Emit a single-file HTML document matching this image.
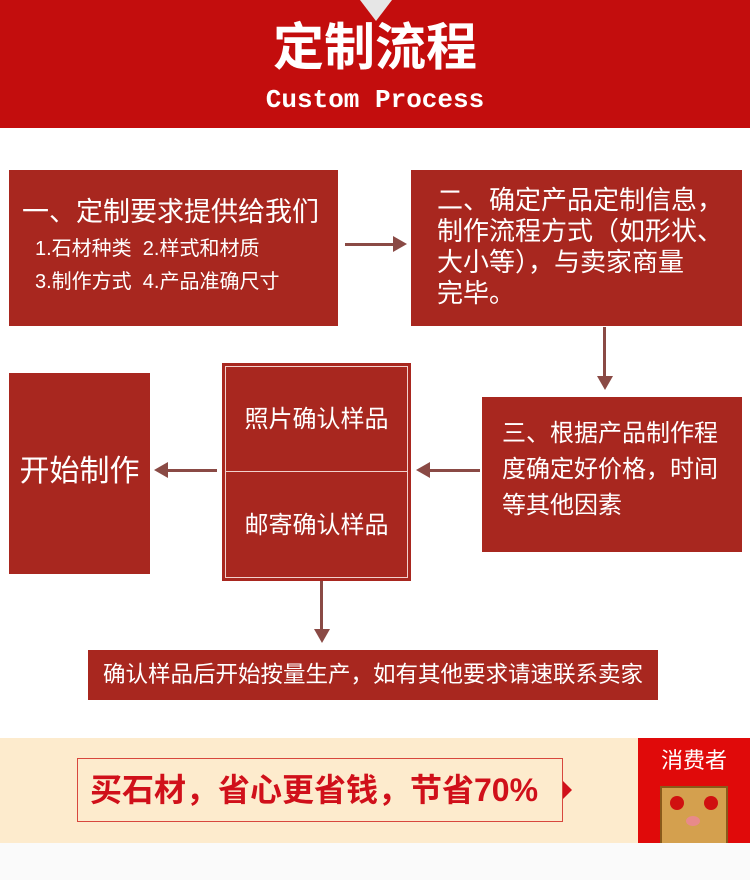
<!DOCTYPE html>
<html><head><meta charset="utf-8"><style>
*{margin:0;padding:0;box-sizing:border-box}
body{width:750px;height:880px;background:#fff;position:relative;overflow:hidden;font-family:"Liberation Sans","Noto Sans CJK SC",sans-serif}
.a{position:absolute}
.box{position:absolute;background:#a8271f;color:#fff}
.t{position:absolute;white-space:nowrap;color:#fff}
.ln{position:absolute;background:#8a4a45}
</style></head><body>
<div class="a" style="left:0;top:0;width:750px;height:128px;background:#c30d0d"></div>
<div class="a" style="left:360px;top:0;width:0;height:0;border-left:16px solid transparent;border-right:16px solid transparent;border-top:21px solid #e6e6e6"></div>
<div class="t" style="left:0;width:750px;text-align:center;top:20px;font-size:51px;font-weight:bold;line-height:56px">定制流程</div>
<div class="t" style="left:0;width:750px;text-align:center;top:85px;font-size:26px;font-weight:bold;font-family:'Liberation Mono',monospace;line-height:30px">Custom Process</div>

<div class="box" style="left:9px;top:170px;width:329px;height:156px"></div>
<div class="t" style="left:22px;top:195px;font-size:27px;line-height:34px">一、定制要求提供给我们</div>
<div class="t" style="left:35px;top:235px;font-size:20px;line-height:28px">1.石材种类&nbsp; 2.样式和材质</div>
<div class="t" style="left:35px;top:268px;font-size:20px;line-height:28px">3.制作方式&nbsp; 4.产品准确尺寸</div>

<div class="box" style="left:411px;top:170px;width:331px;height:156px"></div>
<div class="t" style="left:437px;top:185px;font-size:26px;line-height:31px">二、确定产品定制信息，<br>制作流程方式（如形状、<br>大小等），与卖家商量<br>完毕。</div>

<div class="ln" style="left:345px;top:243px;width:58px;height:3px"></div>
<div class="a" style="left:393px;top:236px;border-top:8px solid transparent;border-bottom:8px solid transparent;border-left:14px solid #8a4a45"></div>

<div class="ln" style="left:603px;top:327px;width:3px;height:55px"></div>
<div class="a" style="left:597px;top:376px;border-left:8px solid transparent;border-right:8px solid transparent;border-top:14px solid #8a4a45"></div>

<div class="box" style="left:482px;top:397px;width:260px;height:155px"></div>
<div class="t" style="left:502px;top:416px;font-size:24px;line-height:36px">三、根据产品制作程<br>度确定好价格，时间<br>等其他因素</div>

<div class="ln" style="left:422px;top:469px;width:58px;height:3px"></div>
<div class="a" style="left:416px;top:462px;border-top:8px solid transparent;border-bottom:8px solid transparent;border-right:14px solid #8a4a45"></div>

<div class="box" style="left:222px;top:363px;width:189px;height:218px"></div>
<div class="a" style="left:225px;top:366px;width:183px;height:212px;border:1px solid #f2d0cc"></div>
<div class="a" style="left:225px;top:471px;width:183px;height:1px;background:#f2d0cc"></div>
<div class="t" style="left:222px;width:189px;text-align:center;top:404px;font-size:24px;line-height:32px">照片确认样品</div>
<div class="t" style="left:222px;width:189px;text-align:center;top:510px;font-size:24px;line-height:32px">邮寄确认样品</div>

<div class="ln" style="left:160px;top:469px;width:57px;height:3px"></div>
<div class="a" style="left:154px;top:462px;border-top:8px solid transparent;border-bottom:8px solid transparent;border-right:14px solid #8a4a45"></div>

<div class="box" style="left:9px;top:373px;width:141px;height:201px"></div>
<div class="t" style="left:9px;width:141px;text-align:center;top:453px;font-size:30px;line-height:38px">开始制作</div>

<div class="ln" style="left:320px;top:581px;width:3px;height:52px"></div>
<div class="a" style="left:314px;top:629px;border-left:8px solid transparent;border-right:8px solid transparent;border-top:14px solid #8a4a45"></div>

<div class="box" style="left:88px;top:650px;width:570px;height:50px"></div>
<div class="t" style="left:88px;width:570px;text-align:center;top:660px;font-size:22.5px;line-height:30px">确认样品后开始按量生产，如有其他要求请速联系卖家</div>

<div class="a" style="left:0;top:738px;width:750px;height:105px;background:#fdebcd"></div>
<div class="a" style="left:0;top:843px;width:750px;height:37px;background:#fafafa"></div>
<div class="a" style="left:77px;top:758px;width:486px;height:64px;border:1px solid #d8473d"></div>
<div class="a" style="left:563px;top:781px;border-top:9px solid transparent;border-bottom:9px solid transparent;border-left:9px solid #d0101a"></div>
<div class="t" style="left:90px;top:770px;font-size:32px;font-weight:bold;color:#d0101a;line-height:40px">买石材，省心更省钱，节省70%</div>

<div class="a" style="left:638px;top:738px;width:112px;height:105px;background:#e00a0a"></div>
<div class="t" style="left:638px;width:112px;text-align:center;top:746px;font-size:22px;line-height:30px">消费者</div>
<div class="a" style="left:660px;top:786px;width:68px;height:57px;background:#d4a04e;border:2px solid #8a5a1a;border-bottom:none"></div>
<div class="a" style="left:670px;top:796px;width:14px;height:14px;border-radius:50%;background:#d01010"></div>
<div class="a" style="left:704px;top:796px;width:14px;height:14px;border-radius:50%;background:#d01010"></div>
<div class="a" style="left:686px;top:816px;width:14px;height:10px;border-radius:50%;background:#e88a8a"></div>
</body></html>
